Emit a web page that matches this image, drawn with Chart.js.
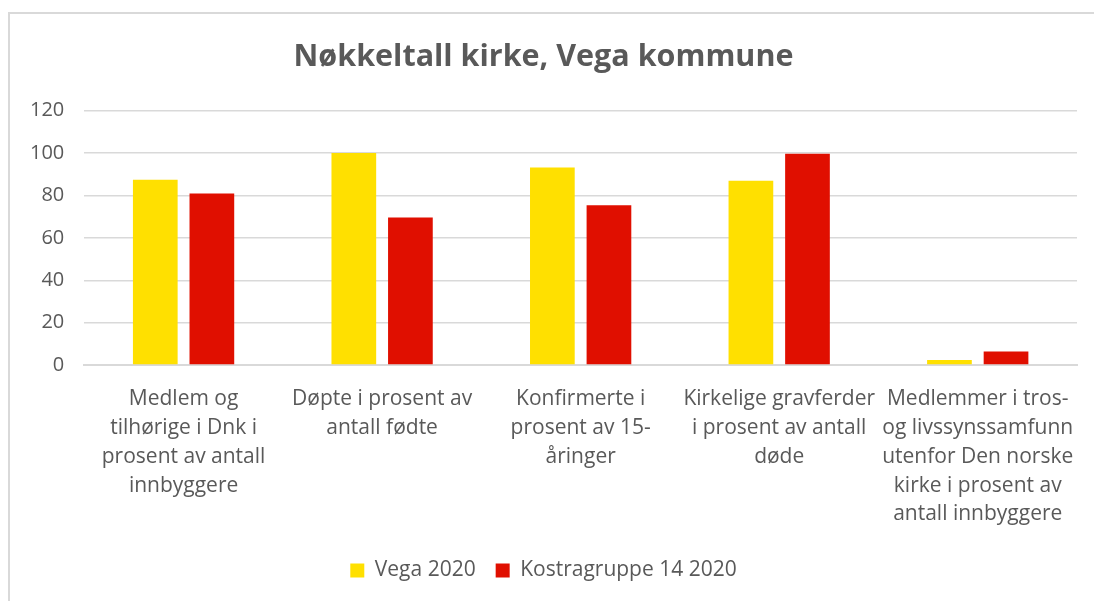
<!DOCTYPE html>
<html>
<head>
<meta charset="utf-8">
<script src="https://cdn.jsdelivr.net/npm/chart.js@4.4.1/dist/chart.umd.min.js"></script>
<style>
    html, body { margin: 0; padding: 0; background: #fff; overflow: hidden; }
    .chart_box {
        position: absolute;
        left: 8px;
        top: 12px;
        width: 1086px;
        height: 589px;
        border-left: 2px solid #d9d9d9;
        border-top: 2px solid #d9d9d9;
        box-sizing: border-box;
    }
</style>
</head>
<body>
<div class="chart_box"><canvas id="chart"></canvas></div>
<script>
const TITLE = 'Nøkkeltall kirke, Vega kommune';
const CATEGORIES = [
    ['Medlem og', 'tilhørige i Dnk i', 'prosent av antall', 'innbyggere'],
    ['Døpte i prosent av', 'antall fødte'],
    ['Konfirmerte i', 'prosent av 15-', 'åringer'],
    ['Kirkelige gravferder', 'i prosent av antall', 'døde'],
    ['Medlemmer i tros-', 'og livssynssamfunn', 'utenfor Den norske', 'kirke i prosent av', 'antall innbyggere'],
];
const SERIES_NAMES = ['Vega 2020', 'Kostragruppe 14 2020'];
const VEGA = [87.4, 100, 93.2, 86.9, 2.4];
const KOSTRA = [80.9, 69.6, 75.4, 99.6, 6.4];
const Y_TICKS = [0, 20, 40, 60, 80, 100, 120];

const YELLOW = '#FFE000';
const RED = '#E00F00';
const TEXT_COLOR = '#595959';
const FONT = "'Open Sans', 'Noto Sans', sans-serif";

const ctx = document.getElementById('chart').getContext('2d');
const box = document.querySelector('.chart_box');
ctx.canvas.width = box.clientWidth;
ctx.canvas.height = box.clientHeight;

new Chart(ctx, {
    type: 'bar',
    data: {
        labels: CATEGORIES,
        datasets: [{
            label: SERIES_NAMES[0],
            data: VEGA,
            backgroundColor: YELLOW,
            categoryPercentage: 0.57,
            barPercentage: 0.79,
        }, {
            label: SERIES_NAMES[1],
            data: KOSTRA,
            backgroundColor: RED,
            categoryPercentage: 0.57,
            barPercentage: 0.79,
        }],
    },
    options: {
        responsive: false,
        animation: false,
        layout: {padding: {left: 0, right: 17, top: 16, bottom: 10}},
        plugins: {
            title: {
                display: true,
                text: TITLE,
                color: TEXT_COLOR,
                font: {family: FONT, size: 30.5, weight: 'bold'},
                padding: {top: 9, bottom: 35},
            },
            legend: {
                position: 'bottom',
                labels: {
                    color: TEXT_COLOR,
                    font: {family: FONT, size: 21},
                    boxWidth: 14,
                    boxHeight: 14,
                    padding: 20,
                },
            },
            tooltip: {enabled: false},
        },
        scales: {
            x: {
                grid: {display: false},
                border: {color: '#d9d9d9', width: 2},
                ticks: {
                    color: TEXT_COLOR,
                    font: {family: FONT, size: 21, lineHeight: 1.38},
                    maxRotation: 0,
                    autoSkip: false,
                    padding: 11,
                },
            },
            y: {
                min: 0,
                max: 120,
                afterBuildTicks: axis => {
                    axis.ticks = Y_TICKS.map(v => ({value: v}));
                },
                grid: {color: '#d9d9d9', lineWidth: 1.5, drawTicks: false},
                border: {display: false},
                ticks: {
                    color: TEXT_COLOR,
                    font: {family: FONT, size: 20},
                    padding: 20,
                },
            },
        },
    },
});
</script>
</body>
</html>
